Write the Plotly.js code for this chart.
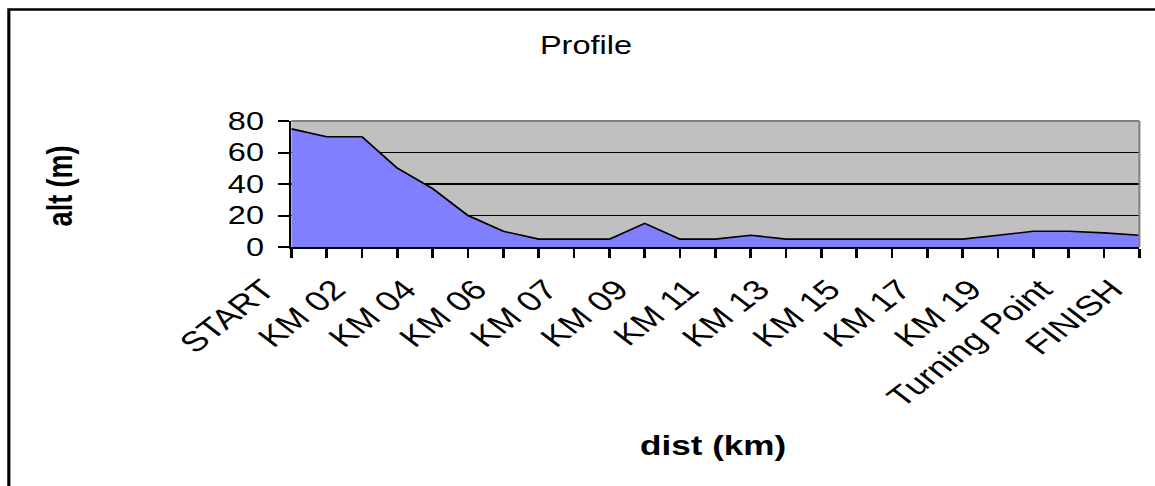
<!DOCTYPE html>
<html><head><meta charset="utf-8">
<script src="https://cdn.plot.ly/plotly-3.0.1.min.js"></script>
<style>
html,body{margin:0;padding:0;background:#fff;overflow:hidden}
#wrap{width:1155px;height:486px;overflow:hidden;position:relative;background:#fff}
#chart{height:486px;transform-origin:0 0;}
</style></head>
<body><div id="wrap"><div id="chart"></div></div>
<script>
const categories = ['START','KM 01','KM 02','KM 03','KM 04','KM 05','KM 06','KM 06.5','KM 07','KM 08','KM 09','KM 10','KM 11','KM 12','KM 13','KM 14','KM 15','KM 16','KM 17','KM 18','KM 19','KM 20','Turning Point','KM 21','FINISH'];
const altitudes = [75,70,70,50,37,20,10,5,5,5,15,5,5,7.5,5,5,5,5,5,5,7.5,10,10,9,7.5];
const yTicks = [0,20,40,60,80];
const tickLabels = categories.map((c,i)=> i%2===0 ? c : '');

const W = 888, H = 486, S = 1155/W;
const el = document.getElementById('chart');
el.style.width = W + 'px';
el.style.transform = 'scaleX(' + S + ')';
const L = 291/S, R = W - 1139/S, T = 121, B = H - 247;
const pw = W - L - R, ph = H - T - B;
const px = v => (v/S - L)/pw;
const py = v => (H - B - v)/ph;
const FONT = 'Liberation Sans, Arial, sans-serif';

const trace = {
  x: categories, y: altitudes, type: 'scatter', mode: 'lines',
  fill: 'tozeroy', fillcolor: '#8080FF',
  line: {color: '#000000', width: 1.6}, hoverinfo: 'skip'
};

const layout = {
  width: W, height: H,
  margin: {l: L, r: R, t: T, b: B, pad: 0},
  paper_bgcolor: '#FFFFFF', plot_bgcolor: '#C0C0C0',
  showlegend: false,
  font: {family: FONT, size: 25, color: '#000'},
  title: {text: 'Profile', x: (586/S)/W, xref: 'container', xanchor: 'center',
          y: 1 - 45/H, yref: 'container', yanchor: 'middle',
          font: {family: FONT, size: 25, color: '#000'}},
  xaxis: {type: 'category', range: [0, categories.length-1], tickmode: 'array',
          tickvals: categories, ticktext: tickLabels, tickangle: -45,
          ticks: 'outside', ticklen: 9, tickwidth: 2, tickcolor: '#000',
          ticklabelstandoff: 4, ticklabelshift: -21,
          showline: true, linecolor: '#000', linewidth: 2, showgrid: false, zeroline: false,
          tickfont: {family: FONT, size: 28, color: '#000'}, fixedrange: true},
  yaxis: {range: [0, 80], tickmode: 'array', tickvals: yTicks, ticks: 'outside', ticklen: 8, tickwidth: 2,
          tickcolor: '#000', showline: true, linecolor: '#000', linewidth: 2,
          showgrid: true, gridcolor: '#000', gridwidth: 1.3, zeroline: false,
          tickfont: {family: FONT, size: 25, color: '#000'}, ticklabelstandoff: 6, fixedrange: true},
  shapes: [
    {type: 'line', xref: 'paper', yref: 'paper', x0: 0, x1: 1, y0: 1, y1: 1, line: {color: '#808080', width: 2}, layer: 'above'},
    {type: 'line', xref: 'paper', yref: 'paper', x0: 1, x1: 1, y0: 0, y1: 1, line: {color: '#808080', width: 1.6}, layer: 'above'},
    {type: 'rect', xref: 'paper', yref: 'paper', x0: px(8.5), x1: px(1400), y0: py(9.5), y1: py(700), line: {color: '#000', width: 2.4}, fillcolor: 'rgba(0,0,0,0)', layer: 'above'}
  ],
  annotations: [
    {text: '<b>alt (m)</b>', xref: 'paper', yref: 'paper', x: px(60), y: py(186), textangle: -90,
     showarrow: false, xanchor: 'center', yanchor: 'middle', font: {family: FONT, size: 27, color: '#000'}},
    {text: '<b>dist (km)</b>', xref: 'paper', yref: 'paper', x: px(713), y: py(446),
     showarrow: false, xanchor: 'center', yanchor: 'middle', font: {family: FONT, size: 27, color: '#000'}}
  ]
};

Plotly.newPlot('chart', [trace], layout, {displayModeBar: false, staticPlot: true});
</script>
</body></html>
